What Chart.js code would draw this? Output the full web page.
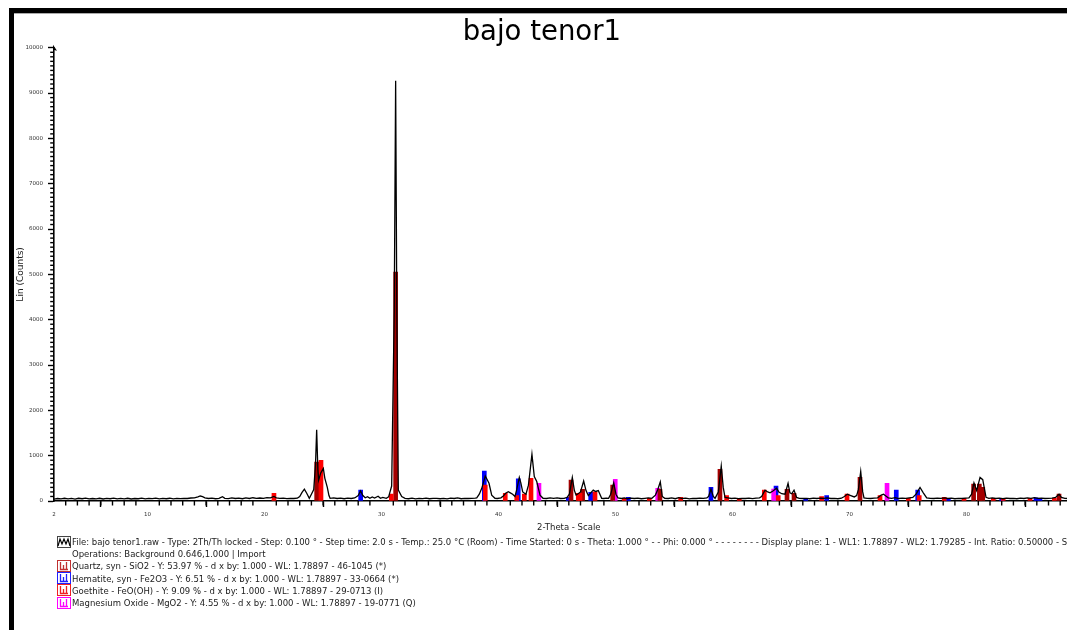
<!DOCTYPE html>
<html>
<head>
<meta charset="utf-8">
<script src="https://cdn.jsdelivr.net/npm/chart.js@4.4.1/dist/chart.umd.min.js"></script>
<style>
html,body{margin:0;padding:0;overflow:hidden;background:#fff;width:1067px;height:630px;}
#wrap{position:absolute;left:0;top:0;width:1100px;height:630px;}
#frame{position:absolute;left:9px;top:8px;width:1200px;height:700px;border-left:5px solid #000;border-top:5px solid #000;pointer-events:none;}
#frameLine{position:absolute;left:14px;top:13px;width:1200px;height:1px;background:#aaa;}
#legend{position:absolute;left:57px;top:536px;font-family:"DejaVu Sans",sans-serif;font-size:8.5px;line-height:12.2px;color:#222;white-space:nowrap;}
#legend .row{position:relative;height:12.2px;padding-left:15px;}
#legend svg{position:absolute;left:0;top:-0.3px;}
</style>
</head>
<body>
<div id="wrap"><canvas id="c" width="1100" height="630"></canvas></div>
<div id="frame"></div>
<div id="frameLine"></div>
<div id="legend">
  <div class="row"><svg width="14" height="12"><rect x="0.5" y="0.5" width="13" height="11" fill="none" stroke="#444"/><polyline points="1,10 3,3 5,8 7,3 9,8 11,3 13,10" fill="none" stroke="#000" stroke-width="1.2"/></svg><span>File: bajo tenor1.raw - Type: 2Th/Th locked - Step: 0.100 ° - Step time: 2.0 s - Temp.: 25.0 °C (Room) - Time Started: 0 s - Theta: 1.000 ° - - Phi: 0.000 ° - - - - - - - - Display plane: 1 - WL1: 1.78897 - WL2: 1.79285 - Int. Ratio: 0.50000 - Sl</span></div>
  <div class="row"><span>Operations: Background 0.646,1.000 | Import</span></div>
  <div class="row"><svg width="14" height="12"><rect x="0.5" y="0.5" width="13" height="11" fill="none" stroke="#c03030"/><path d="M3.5 2 V9.5 H11 M6.5 5 V9.5 M9.5 2 V9.5" fill="none" stroke="#c03030" stroke-width="1.3"/></svg><span>Quartz, syn - SiO2 - Y: 53.97 % - d x by: 1.000 - WL: 1.78897 - 46-1045 (*)</span></div>
  <div class="row"><svg width="14" height="12"><rect x="0.5" y="0.5" width="13" height="11" fill="none" stroke="#2020ff"/><path d="M3.5 2 V9.5 H11 M6.5 5 V9.5 M9.5 2 V9.5" fill="none" stroke="#2020ff" stroke-width="1.3"/></svg><span>Hematite, syn - Fe2O3 - Y: 6.51 % - d x by: 1.000 - WL: 1.78897 - 33-0664 (*)</span></div>
  <div class="row"><svg width="14" height="12"><rect x="0.5" y="0.5" width="13" height="11" fill="none" stroke="#f02020"/><path d="M3.5 2 V9.5 H11 M6.5 5 V9.5 M9.5 2 V9.5" fill="none" stroke="#f02020" stroke-width="1.3"/></svg><span>Goethite - FeO(OH) - Y: 9.09 % - d x by: 1.000 - WL: 1.78897 - 29-0713 (I)</span></div>
  <div class="row"><svg width="14" height="12"><rect x="0.5" y="0.5" width="13" height="11" fill="none" stroke="#ff00ff"/><path d="M3.5 2 V9.5 H11 M6.5 5 V9.5 M9.5 2 V9.5" fill="none" stroke="#ff00ff" stroke-width="1.3"/></svg><span>Magnesium Oxide - MgO2 - Y: 4.55 % - d x by: 1.000 - WL: 1.78897 - 19-0771 (Q)</span></div>
</div>
<script>
// ---- measured pattern ----
const twoTheta = [
  2.0,2.3,2.6,2.9,3.2,3.5,3.8,4.1,4.4,4.7,
  5.0,5.3,5.6,5.9,6.2,6.5,6.8,7.1,7.4,7.7,
  8.0,8.3,8.6,8.9,9.2,9.5,9.8,10.1,10.4,10.7,
  11.0,11.3,11.6,11.9,12.2,12.5,12.8,13.1,13.4,13.7,
  14.0,14.3,14.5,14.7,14.9,15.2,15.5,15.8,16.1,16.4,
  16.6,16.9,17.2,17.5,17.8,18.1,18.4,18.7,19.0,19.3,
  19.6,19.9,20.2,20.5,20.8,21.0,21.3,21.6,21.9,22.2,
  22.5,22.8,23.0,23.2,23.4,23.6,23.82,24.0,24.2,24.35,
  24.45,24.55,24.62,24.8,25.02,25.15,25.36,25.5,25.6,25.9,
  26.2,26.5,26.8,27.1,27.4,27.7,28.0,28.2,28.4,28.6,
  28.8,29.0,29.2,29.4,29.7,29.9,30.1,30.4,30.6,30.86,
  31.08,31.2,31.3,31.43,31.72,32.0,32.3,32.6,32.9,33.2,
  33.5,33.8,34.1,34.4,34.7,35.0,35.3,35.6,35.9,36.2,
  36.5,36.8,37.1,37.4,37.7,38.0,38.13,38.35,38.56,38.86,
  39.18,39.41,39.69,39.9,40.2,40.4,40.6,40.83,41.0,41.2,
  41.4,41.55,41.77,41.9,42.06,42.34,42.55,42.85,43.05,43.26,
  43.54,43.8,44.1,44.4,44.7,45.0,45.3,45.6,45.85,46.05,
  46.3,46.47,46.62,46.8,47.0,47.27,47.47,47.67,47.87,48.09,
  48.3,48.52,48.81,49.0,49.2,49.4,49.58,49.84,50.03,50.2,
  50.5,50.75,51.0,51.3,51.6,51.9,52.2,52.5,52.8,53.1,
  53.4,53.6,53.82,53.99,54.2,54.5,54.8,55.1,55.4,55.7,
  56.0,56.3,56.6,56.9,57.2,57.5,57.8,57.95,58.15,58.35,
  58.5,58.78,59.03,59.2,59.35,59.6,59.9,60.2,60.5,60.8,
  61.1,61.4,61.7,62.0,62.3,62.48,62.77,63.0,63.2,63.45,
  63.76,63.95,64.2,64.48,64.74,64.9,65.05,65.25,65.47,65.7,
  66.0,66.3,66.6,66.9,67.2,67.5,67.8,68.1,68.4,68.7,
  69.0,69.3,69.55,69.8,70.1,70.4,70.6,70.75,70.95,71.12,
  71.23,71.5,71.8,72.1,72.4,72.7,72.9,73.1,73.3,73.6,
  73.9,74.2,74.5,74.8,75.1,75.4,75.68,76.02,76.3,76.59,
  76.9,77.2,77.5,77.8,78.1,78.4,78.7,79.0,79.3,79.6,
  79.9,80.2,80.43,80.63,80.86,81.15,81.38,81.66,81.9,82.2,
  82.5,82.8,83.1,83.4,83.7,84.0,84.3,84.6,84.9,85.2,
  85.5,85.8,86.1,86.4,86.7,87.0,87.3,87.6,87.9,88.1,
  88.4,88.7,89.0,89.3,89.6,90.0
];
const counts = [
  40,55,45,60,48,58,42,60,50,62,
  45,55,48,60,44,57,50,62,46,56,
  49,60,44,55,50,63,47,56,52,64,
  48,58,50,61,47,57,52,60,55,66,
  70,90,110,95,70,55,62,50,58,95,
  60,52,70,55,65,50,68,55,72,58,
  66,60,75,70,100,70,58,65,52,60,
  55,62,100,190,260,170,60,150,250,800,
  1570,700,460,620,720,500,300,120,60,70,
  55,65,50,62,55,68,120,220,120,70,
  95,60,90,65,105,60,80,60,90,330,
  4200,9270,4200,240,100,60,50,62,48,58,
  52,64,50,56,60,50,58,47,62,55,
  70,50,60,55,58,62,70,150,280,550,
  390,130,60,55,70,110,170,205,180,150,
  100,250,520,400,200,150,350,1030,540,430,
  130,60,55,70,60,68,55,60,80,150,
  520,240,130,160,200,440,230,120,180,240,
  210,230,60,55,62,60,150,400,150,70,
  55,70,50,62,55,65,50,60,70,60,
  130,250,420,100,60,55,68,50,75,55,
  62,48,60,55,65,58,70,100,260,100,
  60,200,770,300,80,70,55,62,50,60,
  55,65,52,62,70,100,240,200,180,220,
  280,200,160,150,390,180,160,240,80,60,
  55,60,50,62,55,65,58,70,55,60,
  50,62,100,150,120,90,120,250,650,200,
  70,60,55,62,70,130,150,110,70,60,
  75,55,62,58,70,80,150,300,180,70,
  60,55,62,58,70,55,62,50,60,55,
  62,70,150,400,230,520,470,80,60,70,
  55,62,50,65,55,60,50,62,55,70,
  58,75,60,65,55,58,62,80,150,80,
  60,55,60,55,58,50
];

// ---- reference sticks (phases) ----
const quartzPos = [24.45, 31.2, 46.19, 47.18, 49.75, 53.79, 58.92, 64.65, 65.25, 70.89, 80.6, 81.09, 81.38, 87.9];
const quartzInt = [860, 5050, 460, 260, 350, 260, 700, 260, 170, 520, 375, 375, 300, 150];

const hematitePos = [28.21, 38.78, 41.68, 45.96, 47.87, 51.09, 58.15, 63.71, 66.25, 68.04, 73.99, 75.82, 78.44, 83.0, 85.93, 86.27];
const hematiteInt = [240, 660, 490, 80, 190, 80, 300, 330, 50, 120, 240, 240, 40, 50, 70, 60];

const goethitePos = [20.8, 24.82, 30.83, 38.86, 40.57, 41.55, 42.2, 42.77, 46.81, 46.96, 48.24, 50.74, 52.88, 55.56, 59.49, 60.57, 62.71, 63.9, 67.61, 69.78, 72.6, 75.02, 75.95, 78.09, 79.78, 82.28, 83.13, 85.42, 87.5];
const goethiteInt = [170, 900, 150, 350, 170, 120, 150, 500, 170, 170, 200, 60, 60, 80, 120, 60, 240, 120, 100, 150, 120, 60, 120, 80, 60, 60, 40, 60, 60];

const mgoPos = [43.45, 49.97, 53.6, 63.51, 73.2];
const mgoInt = [390, 480, 280, 265, 390];

// ---- tick labels ----
const xTickValues = [2, 10, 20, 30, 40, 50, 60, 70, 80, 90];
const yTickValues = [0, 1000, 2000, 3000, 4000, 5000, 6000, 7000, 8000, 9000, 10000];

function pts(xs, ys) { return xs.map((x, i) => ({ x: x, y: ys[i] })); }

const minorTicks = {
  id: 'minorTicks',
  afterDraw(chart) {
    const ctx = chart.ctx, xs = chart.scales.x, ys = chart.scales.y;
    ctx.save();
    ctx.strokeStyle = '#000';
    ctx.lineWidth = 1.4;
    for (let v = 3; v < 90; v++) {
      if (xTickValues.includes(v)) continue;
      const px = xs.getPixelForValue(v);
      ctx.beginPath(); ctx.moveTo(px, xs.top); ctx.lineTo(px, xs.top + 4.5); ctx.stroke();
    }
    for (let v = 100; v < 10000; v += 100) {
      if (v % 1000 === 0) continue;
      const py = ys.getPixelForValue(v);
      ctx.beginPath(); ctx.moveTo(ys.right, py); ctx.lineTo(ys.right - 3.8, py); ctx.stroke();
    }
    const ax = ys.right, ay = ys.getPixelForValue(10000);
    ctx.fillStyle = '#000';
    ctx.beginPath();
    ctx.moveTo(ax - 1, ay - 3);
    ctx.lineTo(ax + 3, ay + 3);
    ctx.lineTo(ax - 1, ay + 2);
    ctx.closePath();
    ctx.fill();
    ctx.restore();
  }
};

const stickBase = { type: 'bar', barThickness: 4, grouped: false, borderWidth: 0 };

new Chart(document.getElementById('c'), {
  type: 'bar',
  data: {
    datasets: [
      { type: 'line', label: 'bajo tenor1', data: pts(twoTheta, counts), borderColor: '#000', borderWidth: 1.3, pointRadius: 0, tension: 0, fill: false, order: 0 },
      Object.assign({ label: 'Goethite', data: pts(goethitePos, goethiteInt), backgroundColor: '#ff0000', order: 1 }, stickBase),
      Object.assign({ label: 'Quartz', data: pts(quartzPos, quartzInt), backgroundColor: '#a30000', order: 2 }, stickBase),
      Object.assign({ label: 'Magnesium Oxide', data: pts(mgoPos, mgoInt), backgroundColor: '#ff00ff', order: 3 }, stickBase),
      Object.assign({ label: 'Hematite', data: pts(hematitePos, hematiteInt), backgroundColor: '#0000ff', order: 4 }, stickBase)
    ]
  },
  options: {
    responsive: false,
    animation: false,
    devicePixelRatio: 1,
    layout: { padding: { left: 0, right: 16.4, top: 0, bottom: 93 } },
    plugins: {
      legend: { display: false },
      tooltip: { enabled: false },
      title: {
        display: true, text: 'bajo tenor1', color: '#000',
        font: { size: 27.5, family: 'DejaVu Sans', weight: 'normal', lineHeight: 1.1 },
        padding: { top: 17.5, bottom: 0 }
      }
    },
    scales: {
      x: {
        type: 'linear', min: 2, max: 90, offset: false,
        afterBuildTicks: s => { s.ticks = xTickValues.map(v => ({ value: v })); },
        afterFit: s => { s.height = 36; },
        ticks: { font: { size: 5.5, family: 'DejaVu Sans' }, color: '#333', padding: 4.3, maxRotation: 0, autoSkip: false, callback: v => String(v) },
        grid: { display: true, drawOnChartArea: false, drawTicks: true, tickLength: 6, tickColor: '#000', tickWidth: 1.4 },
        border: { display: true, color: '#000', width: 1.6 },
        title: { display: true, text: '2-Theta - Scale', color: '#222', font: { size: 8.5, family: 'DejaVu Sans' }, padding: { top: 0, bottom: 3.9 } }
      },
      y: {
        type: 'linear', min: 0, max: 10000,
        afterBuildTicks: s => { s.ticks = yTickValues.map(v => ({ value: v })); },
        afterFit: s => { s.width = 54; },
        ticks: { font: { size: 5.5, family: 'DejaVu Sans' }, color: '#333', padding: 5, autoSkip: false, callback: v => String(v) },
        grid: { display: true, drawOnChartArea: false, drawTicks: true, tickLength: 6, tickColor: '#000', tickWidth: 1.4 },
        border: { display: true, color: '#000', width: 1.6 },
        title: { display: true, text: 'Lin (Counts)', color: '#222', font: { size: 9, family: 'DejaVu Sans' }, padding: { top: 15.6, bottom: 0 } }
      }
    }
  },
  plugins: [minorTicks]
});
</script>
</body>
</html>
